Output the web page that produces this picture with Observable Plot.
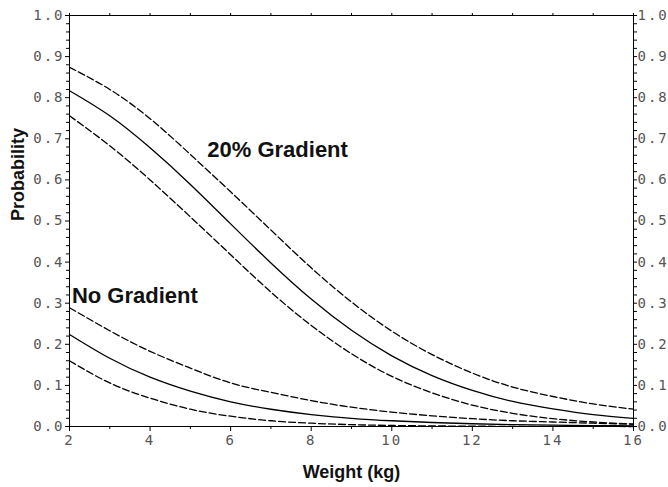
<!DOCTYPE html>
<html>
<head>
<meta charset="utf-8">
<script src="https://cdn.jsdelivr.net/npm/d3@7"></script>
<script src="https://cdn.jsdelivr.net/npm/@observablehq/plot@0.6"></script>
<style>
  html, body { margin: 0; padding: 0; background: white; }
  #chart svg { display: block; }
  g[aria-label$="tick label"] text { fill: #555; letter-spacing: 2px; }
</style>
</head>
<body>
<div id="chart"></div>
<script>
const weights = [2, 3, 4, 5, 6, 7, 8, 9, 10, 11, 12, 13, 14, 15, 16];
const grad20Fit   = [0.817, 0.756, 0.678, 0.589, 0.493, 0.398, 0.310, 0.234, 0.172, 0.124, 0.088, 0.061, 0.043, 0.029, 0.020];
const grad20Upper = [0.874, 0.820, 0.749, 0.662, 0.571, 0.478, 0.386, 0.303, 0.232, 0.175, 0.130, 0.096, 0.073, 0.055, 0.042];
const grad20Lower = [0.756, 0.683, 0.600, 0.510, 0.418, 0.327, 0.246, 0.177, 0.122, 0.082, 0.052, 0.032, 0.019, 0.011, 0.0055];
const noGradFit   = [0.224, 0.166, 0.120, 0.086, 0.060, 0.042, 0.029, 0.020, 0.014, 0.0097, 0.0067, 0.0046, 0.0032, 0.0022, 0.0015];
const noGradUpper = [0.289, 0.233, 0.183, 0.142, 0.106, 0.083, 0.063, 0.047, 0.035, 0.026, 0.019, 0.014, 0.011, 0.008, 0.006];
const noGradLower = [0.160, 0.106, 0.069, 0.042, 0.025, 0.014, 0.008, 0.0045, 0.0025, 0.0014, 0.0008, 0.0004, 0.0002, 0.0001, 0.00005];

const xTicks = [2, 4, 6, 8, 10, 12, 14, 16];
const xMinor = [3, 5, 7, 9, 11, 13, 15];
const yTicks = [0, 0.1, 0.2, 0.3, 0.4, 0.5, 0.6, 0.7, 0.8, 0.9, 1.0];
const yMinor = [0.02,0.04,0.06,0.08,0.12,0.14,0.16,0.18,0.22,0.24,0.26,0.28,0.32,0.34,0.36,0.38,0.42,0.44,0.46,0.48,0.52,0.54,0.56,0.58,0.62,0.64,0.66,0.68,0.72,0.74,0.76,0.78,0.82,0.84,0.86,0.88,0.92,0.94,0.96,0.98];

const labels = [
  {text: "20% Gradient", x: 5.42, y: 0.673},
  {text: "No Gradient", x: 2.06, y: 0.317}
];

const toRows = (arr) => weights.map((w, i) => ({w, p: arr[i]}));
const solid = {x: "w", y: "p", stroke: "black", strokeWidth: 1.3, curve: "natural"};
const dashed = {...solid, strokeDasharray: "7,3"};
const fontSans = "Liberation Sans, Arial, Helvetica, sans-serif";
const fontMono = "DejaVu Sans Mono, monospace";
const fmt = d => d.toFixed(1);
const blank = () => "";

const chart = Plot.plot({
  width: 668,
  height: 487,
  marginLeft: 69,
  marginRight: 35,
  marginTop: 15,
  marginBottom: 61,
  x: {domain: [2, 16]},
  y: {domain: [0, 1]},
  style: {fontFamily: fontMono, fontSize: "14px", background: "white", color: "black", overflow: "hidden"},
  marks: [
    Plot.frame({stroke: "black", strokeWidth: 1}),
    Plot.axisX({ticks: xTicks, tickSize: 5, tickPadding: 4, tickFormat: d => String(d), label: null}),
    Plot.axisX({ticks: xMinor, tickSize: 3, tickFormat: blank, label: null}),
    Plot.axisX({anchor: "top", ticks: weights, tickSize: 3, tickFormat: blank, label: null}),
    Plot.axisY({ticks: yTicks, tickSize: 4, tickPadding: 1, tickFormat: fmt, label: null}),
    Plot.axisY({ticks: yMinor, tickSize: 3, tickFormat: blank, label: null}),
    Plot.axisY({anchor: "right", ticks: yTicks, tickSize: 3, tickPadding: 1, tickFormat: fmt, label: null}),
    Plot.axisY({anchor: "right", ticks: yMinor, tickSize: 3, tickFormat: blank, label: null}),
    Plot.line(toRows(grad20Fit), solid),
    Plot.line(toRows(grad20Upper), dashed),
    Plot.line(toRows(grad20Lower), dashed),
    Plot.line(toRows(noGradFit), solid),
    Plot.line(toRows(noGradUpper), dashed),
    Plot.line(toRows(noGradLower), dashed),
    Plot.text(labels, {x: "x", y: "y", text: "text", textAnchor: "start", lineAnchor: "middle",
      fontFamily: fontSans, fontWeight: "bold", fontSize: 22, fill: "#111"}),
    Plot.text(["Weight (kg)"], {frameAnchor: "bottom", dy: 46, lineAnchor: "middle",
      fontFamily: fontSans, fontWeight: "bold", fontSize: 18, fill: "#111"}),
    Plot.text(["Probability"], {frameAnchor: "left", dx: -51, rotate: -90, lineAnchor: "middle",
      fontFamily: fontSans, fontWeight: "bold", fontSize: 18, fill: "#111"})
  ]
});
document.getElementById("chart").appendChild(chart);
</script>
</body>
</html>
